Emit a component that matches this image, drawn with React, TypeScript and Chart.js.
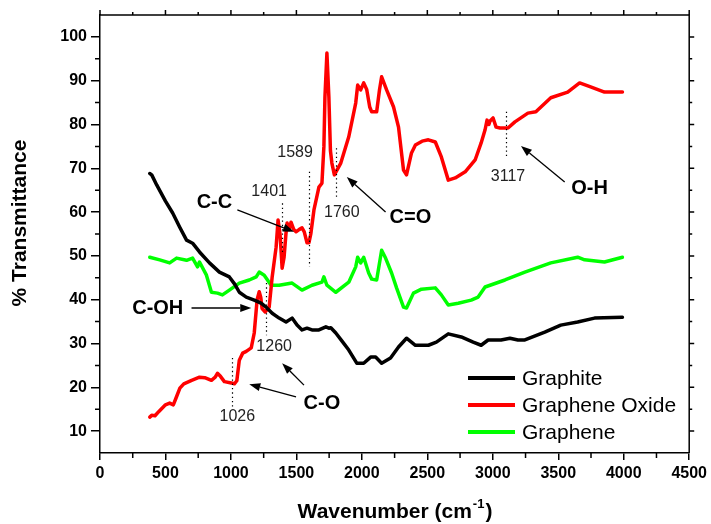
import React, { useEffect, useRef } from 'react';
import { Chart, registerables } from 'chart.js';

Chart.register(...registerables);

const FONT = '"Liberation Sans", Arial, Helvetica, sans-serif';

// ---- Data (wavenumber cm^-1, % transmittance) ----
const graphiteX = [380, 395, 433, 500, 555, 610, 661, 707, 760, 836, 912, 988, 1030, 1064, 1117, 1178, 1230, 1269, 1315, 1368, 1421, 1467, 1505, 1543, 1581, 1619, 1672, 1725, 1748, 1763, 1801, 1850, 1900, 1961, 2014, 2067, 2105, 2151, 2219, 2280, 2341, 2409, 2508, 2569, 2660, 2759, 2850, 2911, 2964, 3063, 3131, 3192, 3245, 3397, 3519, 3648, 3777, 3990];
const graphiteY = [68.8, 68.5, 66.2, 62.5, 59.8, 56.5, 53.6, 52.9, 50.9, 48.4, 46.3, 45.2, 43.5, 41.7, 40.6, 39.9, 39.2, 38.3, 36.9, 35.8, 34.9, 35.8, 34.2, 33.1, 33.5, 33.1, 33.1, 33.8, 33.5, 33.6, 32.4, 30.5, 28.5, 25.5, 25.5, 26.9, 26.9, 25.5, 26.7, 29.2, 31.2, 29.6, 29.6, 30.3, 32.2, 31.5, 30.3, 29.6, 30.8, 30.8, 31.2, 30.8, 30.8, 32.6, 34.2, 34.9, 35.8, 36.0];

const grapheneOxideX = [380, 395, 420, 450, 500, 532, 560, 580, 610, 640, 700, 760, 800, 851, 880, 897, 920, 950, 1003, 1026, 1045, 1064, 1090, 1117, 1155, 1178, 1200, 1216, 1228, 1238, 1262, 1292, 1315, 1345, 1360, 1375, 1391, 1406, 1420, 1429, 1445, 1459, 1480, 1497, 1520, 1543, 1560, 1581, 1596, 1610, 1634, 1672, 1695, 1710, 1718, 1733, 1748, 1760, 1771, 1790, 1839, 1900, 1953, 1968, 1991, 2014, 2037, 2060, 2075, 2113, 2135, 2151, 2189, 2242, 2280, 2318, 2341, 2379, 2409, 2460, 2508, 2561, 2607, 2660, 2713, 2789, 2865, 2911, 2941, 2956, 2970, 2979, 3002, 3025, 3055, 3116, 3169, 3268, 3329, 3443, 3572, 3663, 3747, 3853, 3990];
const grapheneOxideY = [13.2, 13.6, 13.5, 14.5, 16.0, 16.4, 16.0, 17.5, 19.8, 20.8, 21.6, 22.3, 22.2, 21.6, 22.3, 23.2, 22.5, 21.3, 21.0, 20.8, 21.5, 26.2, 27.8, 28.2, 29.0, 32.4, 40.0, 41.8, 40.5, 38.0, 37.2, 38.3, 45.2, 52.0, 58.2, 55.0, 47.2, 49.7, 55.0, 57.5, 56.0, 57.7, 56.0, 55.5, 56.0, 56.4, 55.5, 53.0, 53.0, 55.0, 60.5, 65.7, 66.6, 75.0, 86.3, 96.3, 86.3, 74.0, 71.2, 68.5, 71.2, 77.2, 84.9, 89.0, 87.9, 89.5, 88.0, 84.0, 82.9, 82.9, 88.0, 90.9, 87.9, 84.0, 79.4, 69.6, 68.5, 73.5, 75.3, 76.2, 76.5, 76.0, 72.6, 67.3, 67.8, 69.2, 71.9, 75.8, 78.8, 81.0, 80.0, 80.8, 81.5, 79.4, 79.2, 79.2, 80.6, 82.6, 82.9, 86.1, 87.4, 89.5, 88.6, 87.4, 87.4];

const grapheneX = [380, 456, 532, 585, 661, 707, 745, 760, 813, 851, 897, 935, 988, 1064, 1140, 1193, 1216, 1254, 1307, 1368, 1467, 1543, 1619, 1695, 1710, 1733, 1801, 1900, 1953, 1968, 1991, 2014, 2052, 2075, 2113, 2151, 2181, 2227, 2265, 2318, 2341, 2394, 2455, 2561, 2607, 2660, 2736, 2835, 2888, 2941, 3093, 3245, 3443, 3648, 3701, 3853, 3990];
const grapheneY = [49.7, 49.1, 48.4, 49.5, 49.0, 49.5, 47.5, 48.6, 45.6, 41.7, 41.5, 41.1, 42.2, 43.8, 44.5, 45.2, 46.3, 45.6, 43.3, 43.3, 43.8, 42.2, 43.3, 44.0, 45.2, 43.3, 41.7, 44.0, 47.5, 49.7, 48.4, 49.7, 46.1, 44.7, 44.5, 51.3, 49.5, 46.1, 42.7, 38.3, 38.1, 41.5, 42.4, 42.7, 41.1, 38.8, 39.2, 39.9, 40.6, 42.9, 44.5, 46.3, 48.4, 49.7, 49.1, 48.6, 49.7];

const seriesNames = ['Graphite', 'Graphene Oxide', 'Graphene'];
const seriesColors = ['#000000', '#ff0000', '#00ff00'];

// ---- Axis ticks ----
const xTickValues = [0, 500, 1000, 1500, 2000, 2500, 3000, 3500, 4000, 4500];
const xMinorValues = [250, 750, 1250, 1750, 2250, 2750, 3250, 3750, 4250];
const yTickValues = [10, 20, 30, 40, 50, 60, 70, 80, 90, 100];
const yMinorValues = [15, 25, 35, 45, 55, 65, 75, 85, 95];

// ---- Annotations (data coordinates) ----
const peakLineX = [1010, 1269, 1391, 1596, 1801, 3101];
const peakLineYLow = [15.5, 31.9, 50.9, 47.5, 63.4, 72.4];
const peakLineYHigh = [26.7, 43.8, 62.0, 69.2, 74.6, 82.9];
const peakLabels = ['1026', '1260', '1401', '1589', '1760', '3117'];
const peakLabelX = [1049, 1330, 1292, 1490, 1847, 3116];
const peakLabelY = [13.4, 29.2, 64.6, 73.5, 60.0, 68.0];

const groupLabels = ['C-OH', 'C-O', 'C-C', 'C=O', 'O-H'];
const groupLabelX = [441, 1695, 874, 2371, 3739];
const groupLabelY = [37.9, 16.2, 62.3, 58.7, 65.5];

const arrowFromX = [699, 1497, 1558, 1049, 2181, 3549];
const arrowFromY = [38.1, 17.8, 20.5, 60.5, 60.0, 66.9];
const arrowToX = [1155, 1140, 1391, 1482, 1885, 3215];
const arrowToY = [38.1, 20.7, 25.5, 55.5, 68.0, 75.1];

function zip(xs: number[], ys: number[]) {
  return xs.map((x, i) => ({ x, y: ys[i] }));
}

const overlayPlugin = {
  id: 'overlay',
  afterDatasetsDraw(chart: any) {
    const { ctx, scales } = chart;
    const xs = scales.x;
    const ys = scales.y;
    ctx.save();
    // dotted peak markers
    ctx.strokeStyle = '#000';
    ctx.lineWidth = 1.2;
    ctx.setLineDash([1.3, 3]);
    peakLineX.forEach((v, i) => {
      const px = Math.round(xs.getPixelForValue(v)) + 0.5;
      ctx.beginPath();
      ctx.moveTo(px, ys.getPixelForValue(peakLineYHigh[i]));
      ctx.lineTo(px, ys.getPixelForValue(peakLineYLow[i]));
      ctx.stroke();
    });
    ctx.setLineDash([]);
    // peak numbers
    ctx.fillStyle = '#222';
    ctx.font = `16px ${FONT}`;
    ctx.textAlign = 'center';
    ctx.textBaseline = 'middle';
    peakLabels.forEach((t, i) => {
      ctx.fillText(t, xs.getPixelForValue(peakLabelX[i]), ys.getPixelForValue(peakLabelY[i]));
    });
    // group labels
    ctx.fillStyle = '#000';
    ctx.font = `bold 20px ${FONT}`;
    groupLabels.forEach((t, i) => {
      ctx.fillText(t, xs.getPixelForValue(groupLabelX[i]), ys.getPixelForValue(groupLabelY[i]));
    });
    // arrows
    ctx.lineWidth = 1.3;
    arrowFromX.forEach((v, i) => {
      const x1 = xs.getPixelForValue(v);
      const y1 = ys.getPixelForValue(arrowFromY[i]);
      const x2 = xs.getPixelForValue(arrowToX[i]);
      const y2 = ys.getPixelForValue(arrowToY[i]);
      const ang = Math.atan2(y2 - y1, x2 - x1);
      const hl = 11;
      const hw = 4;
      const bx = x2 - hl * Math.cos(ang);
      const by = y2 - hl * Math.sin(ang);
      ctx.beginPath();
      ctx.moveTo(x1, y1);
      ctx.lineTo(bx, by);
      ctx.stroke();
      ctx.beginPath();
      ctx.moveTo(x2, y2);
      ctx.lineTo(bx + hw * Math.sin(ang), by - hw * Math.cos(ang));
      ctx.lineTo(bx - hw * Math.sin(ang), by + hw * Math.cos(ang));
      ctx.closePath();
      ctx.fill();
    });
    ctx.restore();
  },
  afterDraw(chart: any) {
    const { ctx, chartArea: a, scales } = chart;
    const xs = scales.x;
    const ys = scales.y;
    ctx.save();
    ctx.strokeStyle = '#000';
    ctx.lineWidth = 1.5;
    // top and right frame
    ctx.beginPath();
    ctx.moveTo(a.left, a.top);
    ctx.lineTo(a.right, a.top);
    ctx.lineTo(a.right, a.bottom);
    ctx.stroke();
    ctx.beginPath();
    xMinorValues.forEach((v) => {
      const px = xs.getPixelForValue(v);
      ctx.moveTo(px, a.bottom);
      ctx.lineTo(px, a.bottom + 5);
      ctx.moveTo(px, a.top);
      ctx.lineTo(px, a.top - 3);
    });
    xTickValues.forEach((v) => {
      const px = xs.getPixelForValue(v);
      ctx.moveTo(px, a.top);
      ctx.lineTo(px, a.top - 5);
    });
    yMinorValues.forEach((v) => {
      const py = ys.getPixelForValue(v);
      ctx.moveTo(a.left, py);
      ctx.lineTo(a.left - 5, py);
      ctx.moveTo(a.right, py);
      ctx.lineTo(a.right + 3, py);
    });
    yTickValues.forEach((v) => {
      const py = ys.getPixelForValue(v);
      ctx.moveTo(a.right, py);
      ctx.lineTo(a.right + 5, py);
    });
    ctx.stroke();

    // axis titles
    ctx.fillStyle = '#000';
    ctx.font = `bold 21px ${FONT}`;
    ctx.textAlign = 'center';
    ctx.textBaseline = 'middle';
    ctx.save();
    ctx.translate(20, 223);
    ctx.rotate(-Math.PI / 2);
    ctx.fillText('% Transmittance', 0, 0);
    ctx.restore();

    const main = 'Wavenumber (cm';
    const sup = '-1';
    const close = ')';
    ctx.font = `bold 21px ${FONT}`;
    const wMain = ctx.measureText(main).width;
    const wClose = ctx.measureText(close).width;
    ctx.font = `bold 13px ${FONT}`;
    const wSup = ctx.measureText(sup).width;
    const total = wMain + wSup + wClose + 2;
    let tx = 395 - total / 2;
    const base = 518;
    ctx.textAlign = 'left';
    ctx.textBaseline = 'alphabetic';
    ctx.font = `bold 21px ${FONT}`;
    ctx.fillText(main, tx, base);
    tx += wMain + 1;
    ctx.font = `bold 13px ${FONT}`;
    ctx.fillText(sup, tx, base - 10);
    tx += wSup + 1;
    ctx.font = `bold 21px ${FONT}`;
    ctx.fillText(close, tx, base);

    // legend
    const lx1 = 468;
    const lx2 = 515;
    const rowY = [378, 405, 432];
    ctx.font = `21px ${FONT}`;
    ctx.textBaseline = 'middle';
    chart.data.datasets.forEach((ds: any, i: number) => {
      ctx.strokeStyle = ds.borderColor;
      ctx.lineWidth = 4;
      ctx.beginPath();
      ctx.moveTo(lx1, rowY[i]);
      ctx.lineTo(lx2, rowY[i]);
      ctx.stroke();
      ctx.fillStyle = '#000';
      ctx.fillText(ds.label, 522, rowY[i] + 1);
    });
    ctx.restore();
  },
};

export default function App() {
  const ref = useRef<HTMLCanvasElement | null>(null);
  useEffect(() => {
    if (!ref.current) return;
    const tickFont = { family: FONT, size: 16, weight: 'bold' as const };
    const chart = new Chart(ref.current, {
      type: 'line',
      data: {
        datasets: [
          { label: seriesNames[0], data: zip(graphiteX, graphiteY), borderColor: seriesColors[0], backgroundColor: seriesColors[0] },
          { label: seriesNames[1], data: zip(grapheneOxideX, grapheneOxideY), borderColor: seriesColors[1], backgroundColor: seriesColors[1] },
          { label: seriesNames[2], data: zip(grapheneX, grapheneY), borderColor: seriesColors[2], backgroundColor: seriesColors[2] },
        ],
      },
      options: {
        responsive: false,
        animation: false,
        devicePixelRatio: 1,
        layout: { padding: { top: 15, right: 19, left: 0, bottom: 0 } },
        plugins: { legend: { display: false }, tooltip: { enabled: false } },
        elements: {
          point: { radius: 0 },
          line: { borderWidth: 3.5, tension: 0, borderJoinStyle: 'round', borderCapStyle: 'round', fill: false },
        },
        scales: {
          x: {
            type: 'linear',
            min: 0,
            max: 4500,
            afterBuildTicks: (s: any) => {
              s.ticks = xTickValues.map((v) => ({ value: v }));
            },
            afterFit: (s: any) => {
              s.height = 71;
            },
            grid: { display: true, drawOnChartArea: false, drawTicks: true, tickLength: 7, color: '#000', lineWidth: 1.5 },
            border: { display: true, color: '#000', width: 1.5 },
            ticks: { font: tickFont, color: '#000', padding: 4, maxRotation: 0, autoSkip: false, callback: (v: any) => String(v) },
          },
          y: {
            type: 'linear',
            min: 5,
            max: 105,
            afterBuildTicks: (s: any) => {
              s.ticks = yTickValues.map((v) => ({ value: v }));
            },
            afterFit: (s: any) => {
              s.width = 100;
            },
            grid: { display: true, drawOnChartArea: false, drawTicks: true, tickLength: 9, color: '#000', lineWidth: 1.5 },
            border: { display: true, color: '#000', width: 1.5 },
            ticks: { font: tickFont, color: '#000', padding: 4, autoSkip: false, callback: (v: any) => String(v) },
          },
        },
      },
      plugins: [overlayPlugin],
    });
    return () => chart.destroy();
  }, []);
  return (
    <div style={{ position: 'fixed', left: 0, top: 0, width: 711, height: 524, background: '#fff' }}>
      <canvas ref={ref} width={711} height={524} style={{ display: 'block' }} />
    </div>
  );
}
